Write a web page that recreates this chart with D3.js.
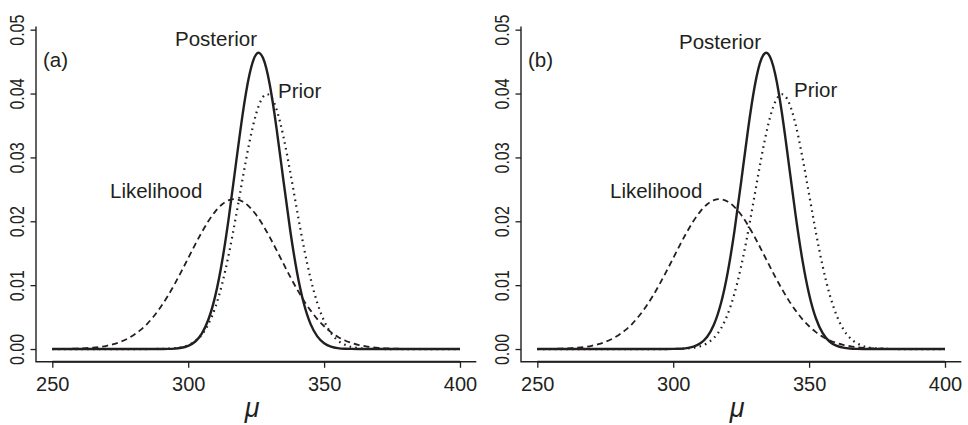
<!DOCTYPE html>
<html>
<head>
<meta charset="utf-8">
<script src="https://cdn.jsdelivr.net/npm/d3@7"></script>
<style>
  body { margin: 0; background: #fff; }
  svg { display: block; }
  text { font-family: "Liberation Sans", Arial, Helvetica, sans-serif; fill: #231f20; }
</style>
</head>
<body>
<svg id="chart" width="968" height="425"></svg>
<script>
// Grid of mu values shared by every density curve
const muGrid = [
  250, 252.5, 255, 257.5, 260, 262.5, 265, 267.5, 270, 272.5,
  275, 277.5, 280, 282.5, 285, 287.5, 290, 292.5, 295, 297.5,
  300, 302.5, 305, 307.5, 310, 312.5, 315, 317.5, 320, 322.5,
  325, 327.5, 330, 332.5, 335, 337.5, 340, 342.5, 345, 347.5,
  350, 352.5, 355, 357.5, 360, 362.5, 365, 367.5, 370, 372.5,
  375, 377.5, 380, 382.5, 385, 387.5, 390, 392.5, 395, 397.5,
  400
];

// Likelihood (same in both panels)
const likelihood = [
  0.00001, 0.00002, 0.00003, 0.00005, 0.00009, 0.00014, 0.00022, 0.00034, 0.00051, 0.00076,
  0.00111, 0.00158, 0.00220, 0.00300, 0.00399, 0.00521, 0.00665, 0.00831, 0.01016, 0.01215,
  0.01423, 0.01631, 0.01829, 0.02007, 0.02156, 0.02266, 0.02331, 0.02346, 0.02310, 0.02227,
  0.02101, 0.01939, 0.01752, 0.01549, 0.01340, 0.01134, 0.00940, 0.00762, 0.00605, 0.00469,
  0.00357, 0.00265, 0.00193, 0.00138, 0.00096, 0.00065, 0.00044, 0.00028, 0.00018, 0.00011,
  0.00007, 0.00004, 0.00002, 0.00001, 0.00001, 0, 0, 0, 0, 0,
  0
];

// Panel (a)
const priorA = [
  0, 0, 0, 0, 0, 0, 0, 0, 0, 0,
  0, 0, 0, 0, 0, 0.00001, 0.00002, 0.00005, 0.00012, 0.00028,
  0.00060, 0.00119, 0.00224, 0.00396, 0.00656, 0.01023, 0.01497, 0.02060, 0.02661, 0.03230,
  0.03683, 0.03945, 0.03970, 0.03752, 0.03332, 0.02780, 0.02178, 0.01604, 0.01109, 0.00721,
  0.00440, 0.00252, 0.00136, 0.00069, 0.00033, 0.00015, 0.00006, 0.00002, 0.00001, 0,
  0, 0, 0, 0, 0, 0, 0, 0, 0, 0,
  0
];
const posteriorA = [
  0, 0, 0, 0, 0, 0, 0, 0, 0, 0,
  0, 0, 0, 0, 0, 0, 0.00001, 0.00002, 0.00007, 0.00020,
  0.00050, 0.00114, 0.00242, 0.00470, 0.00840, 0.01378, 0.02078, 0.02879, 0.03666, 0.04290,
  0.04613, 0.04559, 0.04141, 0.03456, 0.02650, 0.01868, 0.01210, 0.00720, 0.00394, 0.00198,
  0.00091, 0.00039, 0.00015, 0.00005, 0.00002, 0.00001, 0, 0, 0, 0,
  0, 0, 0, 0, 0, 0, 0, 0, 0, 0,
  0
];

// Panel (b)
const priorB = [
  0, 0, 0, 0, 0, 0, 0, 0, 0, 0,
  0, 0, 0, 0, 0, 0, 0, 0, 0, 0,
  0.00001, 0.00004, 0.00009, 0.00020, 0.00044, 0.00091, 0.00175, 0.00317, 0.00540, 0.00863,
  0.01295, 0.01826, 0.02420, 0.03011, 0.03521, 0.03867, 0.03989, 0.03867, 0.03521, 0.03011,
  0.02420, 0.01826, 0.01295, 0.00863, 0.00540, 0.00317, 0.00175, 0.00091, 0.00044, 0.00020,
  0.00009, 0.00004, 0.00001, 0, 0, 0, 0, 0, 0, 0,
  0
];
const posteriorB = [
  0, 0, 0, 0, 0, 0, 0, 0, 0, 0,
  0, 0, 0, 0, 0, 0, 0, 0, 0, 0.00001,
  0.00002, 0.00005, 0.00015, 0.00037, 0.00089, 0.00192, 0.00384, 0.00704, 0.01187, 0.01839,
  0.02618, 0.03425, 0.04117, 0.04549, 0.04619, 0.04310, 0.03695, 0.02912, 0.02108, 0.01403,
  0.00858, 0.00482, 0.00249, 0.00118, 0.00052, 0.00021, 0.00008, 0.00003, 0.00001, 0,
  0, 0, 0, 0, 0, 0, 0, 0, 0, 0,
  0
];

const xTicks = [250, 300, 350, 400];
const yTicks = [0, 0.01, 0.02, 0.03, 0.04, 0.05];
const yTickLabels = ["0.00", "0.01", "0.02", "0.03", "0.04", "0.05"];
const panelTags = ["(a)", "(b)"];
const curveNames = ["Posterior", "Prior", "Likelihood"];
const xTitle = "\u03bc";

const ink = "#231f20";
const svg = d3.select("#chart");

// Shared scales (panel-local coordinates; each panel is shifted horizontally)
const x = d3.scaleLinear().domain([244, 406]).range([36, 476.3]);
const y = d3.scaleLinear().domain([-0.002, 0.052]).range([361.8, 16.9]);

function drawPanel(offset, prior, posterior, tag, pos) {
  const g = svg.append("g").attr("transform", `translate(${offset},0)`);

  // L-shaped frame
  g.append("path")
    .attr("d", `M${x(244)},${y(0.0505)}V${y(-0.002)}H${x(406)}`)
    .attr("fill", "none").attr("stroke", ink).attr("stroke-width", 1.4);

  // x axis
  const xAxis = g.append("g")
    .attr("transform", `translate(0,${y(-0.002)})`)
    .call(d3.axisBottom(x).tickValues(xTicks).tickSize(6).tickPadding(7).tickFormat(d3.format("d")));
  xAxis.select(".domain")
    .attr("d", `M${x(xTicks[0])},0H${x(xTicks[xTicks.length - 1])}`)
    .attr("stroke", ink).attr("stroke-width", 1.9);
  xAxis.selectAll(".tick line").attr("stroke", ink).attr("stroke-width", 1.3);
  xAxis.selectAll(".tick text")
    .attr("font-size", 20).attr("dy", null).attr("y", 29)
    .style("font-family", "'Liberation Sans', Arial, sans-serif").attr("fill", ink);

  // y axis
  const yAxis = g.append("g")
    .attr("transform", `translate(${x(244)},0)`)
    .call(d3.axisLeft(y).tickValues(yTicks).tickSize(5.5).tickFormat((d, i) => yTickLabels[i]));
  yAxis.select(".domain").remove();
  yAxis.selectAll(".tick line").attr("stroke", ink).attr("stroke-width", 1.3);
  yAxis.selectAll(".tick text")
    .attr("x", null).attr("dy", null)
    .attr("font-size", 20)
    .attr("text-anchor", "middle")
    .attr("transform", "translate(-12,0) rotate(-90) scale(0.8,1)")
    .style("font-family", "'Liberation Sans', Arial, sans-serif").attr("fill", ink);

  // x title
  g.append("text")
    .attr("x", (x(244) + x(406)) / 2 - 4)
    .attr("y", 417)
    .attr("text-anchor", "middle")
    .attr("font-size", 27)
    .attr("font-style", "italic")
    .text(xTitle);

  // density curves
  const line = (vals) => d3.line()
    .x((d, i) => x(muGrid[i]))
    .y(d => y(d))
    .curve(d3.curveNatural)(vals);

  g.append("path").attr("d", line(likelihood))
    .attr("fill", "none").attr("stroke", ink).attr("stroke-width", 1.8)
    .attr("stroke-dasharray", "6,4");
  g.append("path").attr("d", line(prior))
    .attr("fill", "none").attr("stroke", ink).attr("stroke-width", 2.2)
    .attr("stroke-dasharray", "1.6,4.2");
  g.append("path").attr("d", line(posterior))
    .attr("fill", "none").attr("stroke", ink).attr("stroke-width", 2.4);

  // labels
  g.append("text").attr("x", 43).attr("y", 67).attr("font-size", 20.5).text(tag);
  curveNames.forEach((name, i) => {
    g.append("text")
      .attr("x", pos[i][0]).attr("y", pos[i][1])
      .attr("font-size", 20.5)
      .text(name);
  });
}

drawPanel(0, priorA, posteriorA, panelTags[0], [[175, 46], [278, 97.5], [110, 198]]);
drawPanel(485, priorB, posteriorB, panelTags[1], [[194, 49], [309, 97], [125, 198]]);
</script>
</body>
</html>
